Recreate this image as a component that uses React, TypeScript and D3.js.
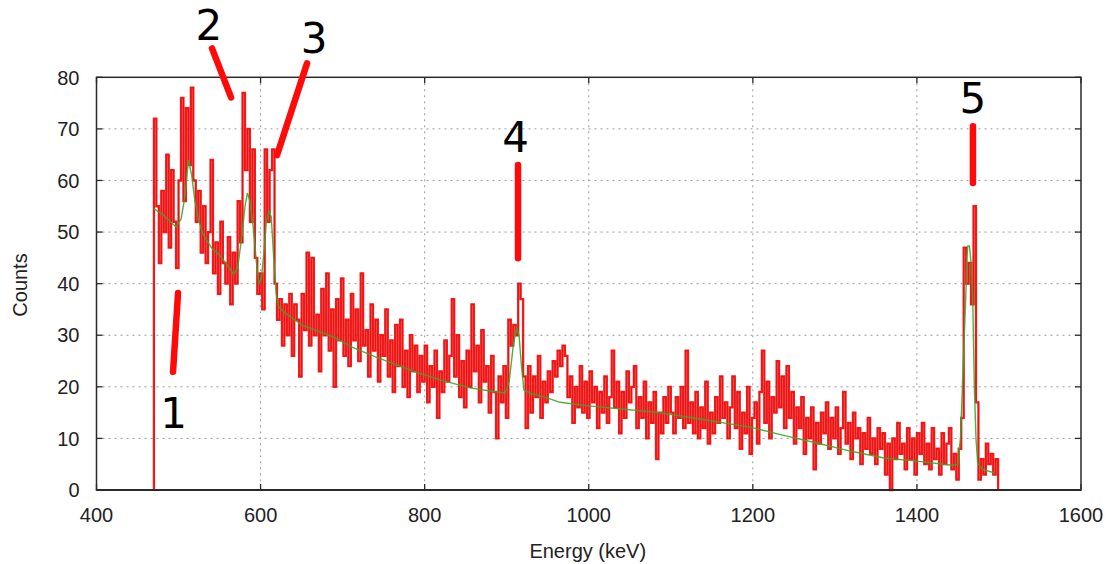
import React from "react";
import * as d3 from "d3";

// ---------- data ----------
const binStart = 470; // keV, first bin
const binWidth = 3; // keV

// counts per 3 keV bin (470 ... 1496 keV)
const counts: number[] = [
  // 470 - 629
  72, 55, 44, 58, 50, 65, 47, 62, 52, 43,
  60, 76, 56, 74, 63, 78, 60, 52, 58, 46,
  55, 44, 50, 64, 42, 48, 38, 52, 44, 40,
  49, 36, 46, 40, 56, 48, 77, 62, 70, 52,
  66, 45, 38, 42, 35, 66, 52, 62, 66, 40,
  33, 37, 28, 36,
  // 632 - 797
  30, 38, 26, 36, 33, 22, 38, 31, 46, 28,
  45, 30, 34, 23, 39, 30, 42, 27, 35, 20,
  37, 29, 41, 26, 33, 24, 38, 29, 35, 25,
  42, 28, 31, 22, 36, 27, 33, 21, 30, 26,
  35, 22, 29, 19, 32, 24, 33, 20, 27, 18,
  30, 23, 28, 19, 26, 21,
  // 800 - 899
  28, 17, 24, 20, 27, 14, 23, 19, 29, 21,
  26, 37, 22, 30, 18, 25, 16, 27, 20, 36,
  23, 28, 17, 31, 21, 24, 15, 26, 19, 10,
  22, 17, 24, 14,
  // 902 - 923 (peak 4)
  33, 28, 32, 30, 40, 37, 22, 12,
  // 926 - 998
  24, 15, 22, 18, 26, 14, 21, 17, 23, 19,
  25, 22, 27, 24, 28, 26, 18, 22, 13, 20,
  16, 24, 15, 21, 14,
  // 1001 - 1127
  23, 17, 20, 12, 19, 15, 22, 13, 18, 27,
  16, 21, 11, 19, 14, 23, 17, 20, 24, 12,
  18, 14, 21, 10, 17, 13, 19, 6, 15, 11,
  18, 13, 20, 15, 11, 18, 14, 20, 12, 27,
  13, 17, 11,
  // 1130 - 1289
  19, 10, 16, 12, 21, 9, 15, 11, 18, 13,
  22, 14, 17, 10, 16, 22, 12, 19, 8, 15,
  11, 20, 7, 14, 17, 9, 19, 27, 13, 21,
  10, 18, 15, 25, 16, 22, 12, 24, 14, 19,
  9, 16, 12, 18, 7, 14, 10, 16, 4, 13,
  9, 15, 11, 17,
  // 1292 - 1451
  8, 14, 10, 16, 7, 12, 19, 9, 13, 6,
  15, 10, 12, 5, 11, 8, 14, 7, 10, 5,
  12, 8, 11, 3, 9, 0, 10, 6, 13, 7,
  9, 4, 12, 6, 10, 3, 11, 7, 13, 5,
  9, 4, 12, 6, 8, 3, 11, 5, 9, 12,
  4, 7, 2, 8,
  // 1454 - 1496 (peak 5)
  14, 47, 40, 44, 36, 55, 17, 2, 6, 3,
  9, 5, 7, 3, 6,
];

// fitted curve (green)
const fitEnergy: number[] = [
  470, 480, 490, 497, 503, 508, 512, 516, 520, 525,
  530, 540, 550, 560, 567, 572, 577, 581, 584, 587,
  591, 595, 598, 601, 604, 607, 610, 613, 616, 619,
  622, 630, 650, 670, 690, 710, 740, 770, 792, 820,
  855, 880, 898, 903, 908, 912, 915, 918, 921, 930,
  950, 965, 1000, 1040, 1080, 1130, 1196, 1240, 1278, 1320,
  1360, 1400, 1443, 1450, 1453, 1455, 1457, 1459, 1461, 1462,
  1464, 1466, 1468, 1470, 1472, 1474, 1480, 1495,
];
const fitCounts: number[] = [
  54.5, 53.5, 52, 51, 52.5, 57, 64, 61, 56, 52,
  49.5, 47, 45.5, 43.5, 41.8, 43, 49, 55, 57.6, 56,
  51, 44, 40, 41, 46, 52, 54, 53, 45, 38,
  35.5, 34.3, 32, 30.8, 29.6, 27.8, 25.8, 24, 22.7, 21.3,
  19.8, 19.2, 18.8, 21, 28, 31.4, 30, 24, 19.4, 18.7,
  17.8, 17, 16.3, 15.7, 15.1, 13.9, 12.2, 10.5, 9.1, 7.5,
  6.2, 5.6, 4.8, 5, 10, 18, 27, 35, 45, 47.3,
  47.3, 44, 37, 20, 10, 5.2, 4, 3.3,
];

const xTicks: number[] = [400, 600, 800, 1000, 1200, 1400, 1600];
const yTicks: number[] = [0, 10, 20, 30, 40, 50, 60, 70, 80];

// annotation markers: label, text anchor (energy, counts), line from/to (energy, counts)
const markLabels: string[] = ["1", "2", "3", "4", "5"];
const markTextE: number[] = [493.9, 537.1, 665.1, 910.8, 1468.3];
const markTextC: number[] = [12.0, 87.2, 84.8, 65.5, 73.1];
const markLineE1: number[] = [499.4, 540.8, 656.6, 913.8, 1468.3];
const markLineC1: number[] = [38.2, 85.6, 82.7, 63.0, 70.5];
const markLineE2: number[] = [493.3, 564.0, 620.0, 913.8, 1468.3];
const markLineC2: number[] = [22.9, 76.1, 64.9, 44.9, 59.5];

const xLabel = "Energy (keV)";
const yLabel = "Counts";

// ---------- layout ----------
const W = 1112;
const H = 564;
const L = 96.5;
const R = 1081;
const T = 77.3;
const B = 490;

export default function App() {
  const x = d3.scaleLinear().domain([400, 1600]).range([L, R]);
  const y = d3.scaleLinear().domain([0, 80]).range([B, T]);

  const histPts: [number, number][] = [[binStart, 0]];
  counts.forEach((c, i) => histPts.push([binStart + i * binWidth, c]));
  const endE = binStart + counts.length * binWidth;
  histPts.push([endE, counts[counts.length - 1]]);
  histPts.push([endE, 0]);

  const hist = d3
    .line<[number, number]>()
    .x((d) => x(d[0]))
    .y((d) => y(d[1]))
    .curve(d3.curveStepAfter)(histPts) as string;

  const fit = d3
    .line<number>()
    .x((_, i) => x(fitEnergy[i]))
    .y((d) => y(d))(fitCounts) as string;

  const font = "'Liberation Sans', Arial, Helvetica, sans-serif";
  const tickLen = 6;

  return (
    <svg
      width={W}
      height={H}
      style={{ position: "absolute", left: 0, top: 0, background: "#fff" }}
    >
      <rect x={0} y={0} width={W} height={H} fill="#fff" />
      {/* grid */}
      {xTicks.slice(1, -1).map((t) => (
        <line
          key={"gx" + t}
          x1={x(t)}
          x2={x(t)}
          y1={T}
          y2={B}
          stroke="#9a9a9a"
          strokeWidth={1}
          strokeDasharray="2,4"
        />
      ))}
      {yTicks.slice(1, -1).map((t) => (
        <line
          key={"gy" + t}
          x1={L}
          x2={R}
          y1={y(t)}
          y2={y(t)}
          stroke="#9a9a9a"
          strokeWidth={1}
          strokeDasharray="2,4"
        />
      ))}

      {/* spectrum */}
      <path d={hist} fill="none" stroke="#b51a1a" strokeWidth={1} strokeLinejoin="miter" />
      <path d={hist} fill="none" stroke="#f01010" strokeWidth={2.3} strokeLinejoin="miter" opacity={0.92} />
      <path d={fit} fill="none" stroke="#39a82a" strokeWidth={1.4} opacity={0.9} />

      {/* frame */}
      <rect x={L} y={T} width={R - L} height={B - T} fill="none" stroke="#2a2a2a" strokeWidth={1.5} />
      <line x1={L} x2={R} y1={B} y2={B} stroke="#2a2a2a" strokeWidth={2.2} />

      {/* ticks */}
      {xTicks.map((t) => (
        <g key={"tx" + t}>
          <line x1={x(t)} x2={x(t)} y1={B} y2={B - tickLen} stroke="#2a2a2a" strokeWidth={1.3} />
          <line x1={x(t)} x2={x(t)} y1={T} y2={T + tickLen} stroke="#2a2a2a" strokeWidth={1.3} />
          <text
            x={x(t)}
            y={522}
            textAnchor="middle"
            fontFamily={font}
            fontSize={20}
            fill="#222"
          >
            {t}
          </text>
        </g>
      ))}
      {yTicks.map((t) => (
        <g key={"ty" + t}>
          <line x1={L} x2={L + tickLen} y1={y(t)} y2={y(t)} stroke="#2a2a2a" strokeWidth={1.3} />
          <line x1={R} x2={R - tickLen} y1={y(t)} y2={y(t)} stroke="#2a2a2a" strokeWidth={1.3} />
          <text
            x={79.5}
            y={y(t)}
            dy="0.36em"
            textAnchor="end"
            fontFamily={font}
            fontSize={20}
            fill="#222"
          >
            {t}
          </text>
        </g>
      ))}

      {/* axis titles */}
      <text
        x={(L + R) / 2 - 1}
        y={558}
        textAnchor="middle"
        fontFamily={font}
        fontSize={20}
        fill="#222"
      >
        {xLabel}
      </text>
      <text
        transform={`translate(27,285) rotate(-90)`}
        textAnchor="middle"
        fontFamily={font}
        fontSize={20}
        fill="#222"
      >
        {yLabel}
      </text>

      {/* annotations */}
      {markLabels.map((lab, i) => (
        <g key={"m" + lab}>
          <line
            x1={x(markLineE1[i])}
            y1={y(markLineC1[i])}
            x2={x(markLineE2[i])}
            y2={y(markLineC2[i])}
            stroke="#ff0a0a"
            strokeWidth={6.5}
            strokeLinecap="round"
          />
          <text
            x={x(markTextE[i])}
            y={y(markTextC[i])}
            textAnchor="middle"
            fontFamily="'DejaVu Sans', sans-serif"
            fontSize={42}
            fill="#000"
          >
            {lab}
          </text>
        </g>
      ))}
    </svg>
  );
}
